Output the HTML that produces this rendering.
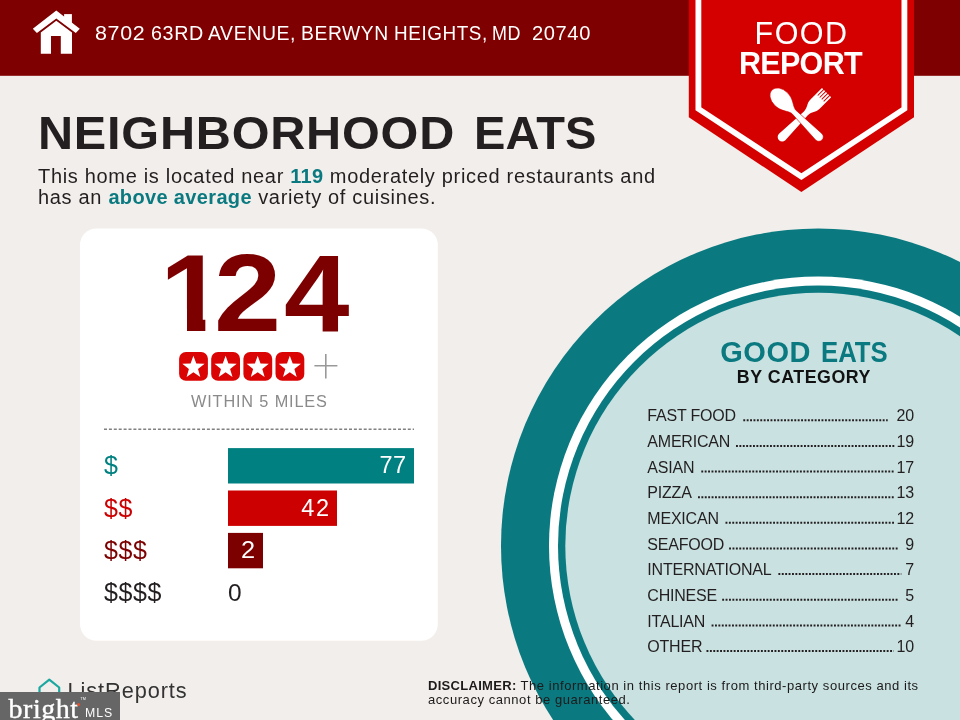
<!DOCTYPE html>
<html><head><meta charset="utf-8"><title>Food Report</title>
<style>
html,body{margin:0;padding:0}
body{width:960px;height:720px;position:relative;overflow:hidden;background:#f2eeeb;font-family:"Liberation Sans",sans-serif;color:#231f20}
.abs{position:absolute;white-space:nowrap;line-height:1}
#shapes{position:absolute;left:0;top:0}
.addr{top:23.5px;font-size:19.5px;letter-spacing:0.6px;color:#fff;transform-origin:0 0}
.title{top:108.8px;font-size:47px;font-weight:bold;color:#231f20;transform-origin:0 0}
#para{left:38px;top:166.2px;font-size:20px;letter-spacing:0.68px;line-height:21.25px;color:#231f20}
#para b{color:#0a7a80;letter-spacing:0.35px}
.big{top:239px;font-size:109px;font-weight:bold;color:#7d0000;transform-origin:0 0}
#d1{left:160.3px;transform:scaleX(1.06);clip-path:polygon(0 0,43px 0,43px 109px,25.5px 109px,25.5px 70px,0 70px)}
#d2{left:214.3px;transform:scaleX(1.108)}
#d4{left:284.3px;transform:scaleX(1.08)}
#within{left:191px;top:392.5px;font-size:16.3px;letter-spacing:0.85px;color:#8a8a8a}
.lbl{left:104px;font-size:25px;letter-spacing:0.6px}
.val{color:#fff;font-size:23.5px;text-align:right;letter-spacing:0.3px}
#food{left:754.5px;top:18.3px;font-size:30.5px;letter-spacing:1.5px;color:#fff}
#report{left:739px;top:47.5px;font-size:30.5px;letter-spacing:-0.7px;color:#fff;font-weight:bold}
.good{top:338.3px;font-size:29px;font-weight:bold;color:#0a7a80;transform-origin:0 0}
#bycat{left:736.8px;top:369.3px;font-size:17.8px;letter-spacing:0.55px;font-weight:bold;color:#111}
.rl{left:647.3px;font-size:16px;letter-spacing:-0.2px;color:#231f20}
.rn{left:860px;width:54.2px;text-align:right;font-size:16px;color:#231f20}
#disc{left:428px;top:678.5px;font-size:13px;line-height:14px;letter-spacing:0.56px;color:#1c1a1a}
#disc b{letter-spacing:0.3px}
#lr{left:67.5px;top:680.3px;font-size:21.7px;letter-spacing:0.95px;color:#333}
#wm{left:0;top:691.7px;width:120.4px;height:29px;background:#666}
#br{left:8.5px;top:694.5px;font-family:"Liberation Serif",serif;font-size:28px;color:#fff;letter-spacing:0.55px;-webkit-text-stroke:0.4px #fff}
#mls{left:85px;top:707.3px;font-size:12.3px;color:#fff;letter-spacing:0.9px}
#tm{left:80.5px;top:698px;font-size:3.8px;color:#fff}
</style></head><body>
<svg id="shapes" width="960" height="720" viewBox="0 0 960 720">
<!-- circle -->
<circle cx="818.3" cy="545.8" r="317.3" fill="#0a7a80"/>
<circle cx="818.3" cy="545.8" r="269.3" fill="#fff"/>
<circle cx="818.3" cy="545.8" r="260.3" fill="#0a7a80"/>
<circle cx="818.3" cy="545.8" r="253" fill="#c9e1e0"/>
<g stroke="#231f20" stroke-width="2" stroke-dasharray="1.9 1.5">
<line x1="743.3" y1="420.2" x2="887.7" y2="420.2"/>
<line x1="736.0" y1="445.9" x2="894.7" y2="445.9"/>
<line x1="701.3" y1="471.5" x2="894.7" y2="471.5"/>
<line x1="698.0" y1="497.2" x2="894.7" y2="497.2"/>
<line x1="725.5" y1="522.8" x2="894.7" y2="522.8"/>
<line x1="729.1" y1="548.5" x2="897.7" y2="548.5"/>
<line x1="778.4" y1="574.1" x2="901.3" y2="574.1"/>
<line x1="722.2" y1="599.7" x2="897.7" y2="599.7"/>
<line x1="711.6" y1="625.4" x2="901.3" y2="625.4"/>
<line x1="706.5" y1="651.1" x2="893.8" y2="651.1"/>
</g>
<!-- header -->
<rect x="0" y="0" width="960" height="75.8" fill="#7f0000"/>
<!-- badge -->
<path d="M688.8 0 H914 V117.3 L801.4 192 L688.8 117.3 Z" fill="#d40000"/>
<path d="M698.4 0 V108.8 L801.4 176.6 L904.4 108.8 V0" fill="none" stroke="#fff" stroke-width="5.8"/>
<!-- card -->
<rect x="80" y="228.4" width="357.8" height="412.4" rx="16.5" fill="#fff"/>
<line x1="104" y1="429.3" x2="414" y2="429.3" stroke="#808080" stroke-width="1.6" stroke-dasharray="3 1.9"/>
<rect x="228" y="448.1" width="186" height="35.4" fill="#008080"/>
<rect x="228" y="490.5" width="109" height="35.4" fill="#cc0000"/>
<rect x="228" y="532.9" width="35" height="35.4" fill="#7d0000"/>

<!-- house icon -->
<g fill="#fff">
<polygon points="56.3,10.6 79.8,28.7 75.8,32.9 56.3,18.4 36.9,32.9 32.8,28.7"/>
<polygon points="56.3,20.7 72,32.6 72,53.8 60.8,53.8 60.8,35.9 51,35.9 51,53.8 40.8,53.8 40.8,32.6"/>
<rect x="64.1" y="14.1" width="7.8" height="10"/>
</g>
<!-- fork -->
<g transform="translate(779,140.2) rotate(45)">
<path d="M-4.5,-4.5 A4.5,4.5 0 0 0 4.5,-4.5 L2.7,-38 C2.7,-44 6.5,-45 6.5,-51 L6.5,-67.3 L-6.5,-67.3 L-6.5,-51 C-6.5,-45 -2.7,-44 -2.7,-38 Z" fill="#fff"/>
<g fill="#d40000"><rect x="-4.7" y="-68" width="1" height="9"/><rect x="-1.9" y="-68" width="1" height="9"/><rect x="0.9" y="-68" width="1" height="9"/><rect x="3.7" y="-68" width="1" height="9"/></g>
</g>
<!-- spoon -->
<g transform="translate(822,140) rotate(-45)" fill="#fff" stroke="#d40000" stroke-width="0.6">
<path d="M-4.5,-4.5 A4.5,4.5 0 0 0 4.5,-4.5 L2.6,-40 C3.4,-45 9,-49 9,-58 A9,12.8 0 0 0 -9,-58 C-9,-49 -3.4,-45 -2.6,-40 Z"/>
</g>
<!-- stars -->
<g id="stars">
<rect x="179.1" y="352" width="28.8" height="28.8" rx="6.8" fill="#da0404"/>
<polygon points="193.4,355.7 196.3,363.5 204.6,363.8 198.0,368.9 200.3,376.9 193.4,372.2 186.6,376.9 188.9,368.9 182.3,363.8 190.6,363.5" fill="#fff"/>
<rect x="211.2" y="352" width="28.8" height="28.8" rx="6.8" fill="#da0404"/>
<polygon points="225.6,355.7 228.4,363.5 236.7,363.8 230.1,368.9 232.5,376.9 225.6,372.2 218.7,376.9 221.0,368.9 214.5,363.8 222.8,363.5" fill="#fff"/>
<rect x="243.4" y="352" width="28.8" height="28.8" rx="6.8" fill="#da0404"/>
<polygon points="257.7,355.7 260.5,363.5 268.8,363.8 262.3,368.9 264.6,376.9 257.7,372.2 250.8,376.9 253.1,368.9 246.6,363.8 254.9,363.5" fill="#fff"/>
<rect x="275.5" y="352" width="28.8" height="28.8" rx="6.8" fill="#da0404"/>
<polygon points="289.8,355.7 292.7,363.5 301.0,363.8 294.4,368.9 296.7,376.9 289.8,372.2 283.0,376.9 285.3,368.9 278.7,363.8 287.0,363.5" fill="#fff"/>
</g>
<path d="M314.4 365.8 H337.4 M325.8 354 V378.4" stroke="#999" stroke-width="1.6" fill="none"/>
<!-- listreports icon -->
<path d="M39.5 700 V687.5 L49.3 679.6 L59.2 687.5 V700" fill="none" stroke="#1aa8a0" stroke-width="2.2" stroke-linejoin="round"/>
</svg>
<div class="abs addr" style="left:95.0px;transform:scaleX(1.100)">8702</div><div class="abs addr" style="left:150.7px;transform:scaleX(1.012)">63RD</div><div class="abs addr" style="left:208.3px;transform:scaleX(0.997)">AVENUE,</div><div class="abs addr" style="left:300.7px;transform:scaleX(0.988)">BERWYN</div><div class="abs addr" style="left:394.0px;transform:scaleX(0.968)">HEIGHTS,</div><div class="abs addr" style="left:492.3px;transform:scaleX(0.920)">MD</div><div class="abs addr" style="left:532.0px;transform:scaleX(1.030)">20740</div>
<div class="abs title" style="left:37.5px;letter-spacing:0.75px;transform:scaleX(1.034)">NEIGHBORHOOD</div><div class="abs title" style="left:474px;letter-spacing:0.2px">EATS</div>
<div class="abs" id="para">This home is located near <b>119</b> moderately priced restaurants and<br>has an <b>above average</b> variety of cuisines.</div>
<div class="abs big" id="d1">1</div><div class="abs big" id="d2">2</div><div class="abs big" id="d4">4</div>
<div class="abs" id="within">WITHIN 5 MILES</div>
<div class="abs lbl" style="top:453.2px;color:#008080">$</div>
<div class="abs lbl" style="top:495.6px;color:#cc0000">$$</div>
<div class="abs lbl" style="top:538px;color:#7d0000">$$$</div>
<div class="abs lbl" style="top:580.4px;color:#231f20">$$$$</div>
<div class="abs val" style="left:228px;width:178.3px;top:454.3px">77</div>
<div class="abs val" style="left:228px;width:102.5px;top:496.7px;letter-spacing:1.5px">42</div>
<div class="abs val" style="left:228px;width:26.5px;top:539.1px;transform:scaleX(1.08)">2</div>
<div class="abs val" style="left:228px;top:581px;font-size:24.5px;color:#231f20">0</div>
<div class="abs" id="food">FOOD</div>
<div class="abs" id="report">REPORT</div>
<div class="abs good" style="left:720.3px;letter-spacing:0.5px">GOOD</div><div class="abs good" style="left:821px;transform:scaleX(0.887)">EATS</div>
<div class="abs" id="bycat">BY CATEGORY</div>
<div class="abs rl" id="r0" style="top:408.4px">FAST FOOD</div><div class="abs rn" style="top:408.4px">20</div>
<div class="abs rl" id="r1" style="top:434.0px">AMERICAN</div><div class="abs rn" style="top:434.0px">19</div>
<div class="abs rl" id="r2" style="top:459.7px">ASIAN</div><div class="abs rn" style="top:459.7px">17</div>
<div class="abs rl" id="r3" style="top:485.4px">PIZZA</div><div class="abs rn" style="top:485.4px">13</div>
<div class="abs rl" id="r4" style="top:511.0px">MEXICAN</div><div class="abs rn" style="top:511.0px">12</div>
<div class="abs rl" id="r5" style="top:536.7px">SEAFOOD</div><div class="abs rn" style="top:536.7px">9</div>
<div class="abs rl" id="r6" style="top:562.3px">INTERNATIONAL</div><div class="abs rn" style="top:562.3px">7</div>
<div class="abs rl" id="r7" style="top:587.9px">CHINESE</div><div class="abs rn" style="top:587.9px">5</div>
<div class="abs rl" id="r8" style="top:613.6px">ITALIAN</div><div class="abs rn" style="top:613.6px">4</div>
<div class="abs rl" id="r9" style="top:639.3px">OTHER</div><div class="abs rn" style="top:639.3px">10</div>
<div class="abs" id="disc"><b>DISCLAIMER:</b> The information in this report is from third-party sources and its<br>accuracy cannot be guaranteed.</div>
<div class="abs" id="lr">ListReports</div>
<div class="abs" id="wm"></div><div class="abs" id="br">bright</div><div class="abs" id="mls">MLS</div><div class="abs" id="tm">TM</div><div class="abs" style="left:76.8px;top:703.2px;width:3px;height:3px;border-radius:50%;background:#e8502a"></div>
</body></html>
